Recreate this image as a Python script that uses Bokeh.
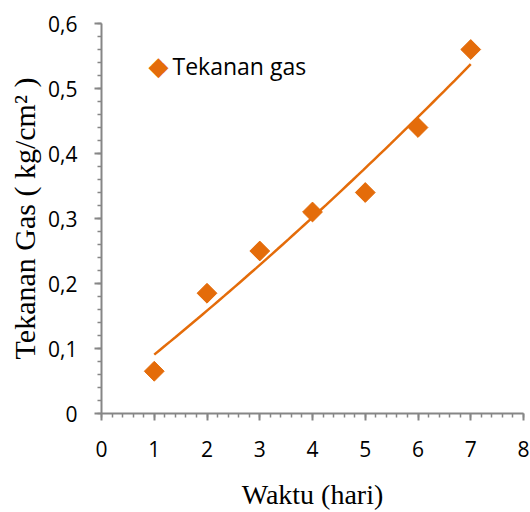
import numpy as np
from bokeh.plotting import figure
from bokeh.models import Range1d, FixedTicker, ColumnDataSource, Label
from bokeh.embed import file_html
from bokeh.resources import INLINE

# --- data ---
days = [1, 2, 3, 4, 5, 6, 7]
pressure = [0.065, 0.185, 0.25, 0.31, 0.34, 0.44, 0.56]
x_ticks = [0, 1, 2, 3, 4, 5, 6, 7, 8]
x_tick_labels = ["0", "1", "2", "3", "4", "5", "6", "7", "8"]
y_ticks = [0.0, 0.1, 0.2, 0.3, 0.4, 0.5, 0.6]
y_tick_labels = ["0", "0,1", "0,2", "0,3", "0,4", "0,5", "0,6"]
series_name = "Tekanan gas"
x_title = "Waktu (hari)"
y_title = "Tekanan Gas ( kg/cm\u00b2 )"

ORANGE = "#E46C0A"
AXIS = "#868686"

# polynomial (order 2) trend line, as in the spreadsheet
coef = np.polyfit(days, pressure, 2)
tx = np.linspace(min(days), max(days), 60)
ty = np.polyval(coef, tx)

p = figure(width=530, height=512, output_backend="svg", toolbar_location=None,
           x_range=Range1d(0, 8), y_range=Range1d(0, 0.6),
           min_border_left=101, min_border_right=7, min_border_top=23, min_border_bottom=99)
p.outline_line_color = None
p.xgrid.visible = False
p.ygrid.visible = False
p.background_fill_color = "white"

trend = p.line(tx, ty, line_color=ORANGE, line_width=2.5)
src = ColumnDataSource(dict(x=days, y=pressure))
pts = p.scatter("x", "y", source=src, marker="square", angle=np.pi / 4, size=14,
                fill_color=ORANGE, line_color=ORANGE)

xminor = [i * 0.2 for i in range(41)]
yminor = [i * 0.02 for i in range(31)]
p.xaxis.ticker = FixedTicker(ticks=x_ticks, minor_ticks=xminor)
p.yaxis.ticker = FixedTicker(ticks=y_ticks, minor_ticks=yminor)
p.xaxis.major_label_overrides = {t: l for t, l in zip(x_ticks, x_tick_labels)}
p.yaxis.major_label_overrides = {t: l for t, l in zip(y_ticks, y_tick_labels)}

for ax in (p.xaxis, p.yaxis):
    ax.axis_line_color = AXIS
    ax.axis_line_width = 2
    ax.major_tick_line_color = AXIS
    ax.major_tick_line_width = 2
    ax.minor_tick_line_color = AXIS
    ax.minor_tick_line_width = 1.5
    ax.major_tick_in = 0
    ax.major_tick_out = 7
    ax.minor_tick_in = 0
    ax.minor_tick_out = 4
    ax.major_label_text_font = "Open Sans"
    ax.major_label_text_font_size = "21px"
    ax.major_label_text_color = "black"
    ax.axis_label_text_font = "Liberation Serif"
    ax.axis_label_text_font_style = "normal"
    ax.axis_label_text_color = "black"

p.xaxis.axis_label = x_title
p.yaxis.axis_label = y_title
p.xaxis.axis_label_text_font_size = "28px"
p.yaxis.axis_label_text_font_size = "30px"
p.xaxis.major_label_standoff = 20
p.yaxis.major_label_standoff = 17
p.xaxis.axis_label_standoff = 19
p.yaxis.axis_label_standoff = 4

# legend: orange diamond key + series name (screen units inside the plot frame)
p.add_layout(Label(x=57, y=348, x_units="screen", y_units="screen", text="\u25c6",
                   text_font="DejaVu Sans", text_font_size="26px", text_color=ORANGE,
                   text_align="center", text_baseline="middle"))
p.add_layout(Label(x=71, y=348, x_units="screen", y_units="screen", text=series_name,
                   text_font="Open Sans", text_font_size="23px", text_color="black",
                   text_align="left", text_baseline="middle"))

open("out.html", "w").write(file_html(p, INLINE))
